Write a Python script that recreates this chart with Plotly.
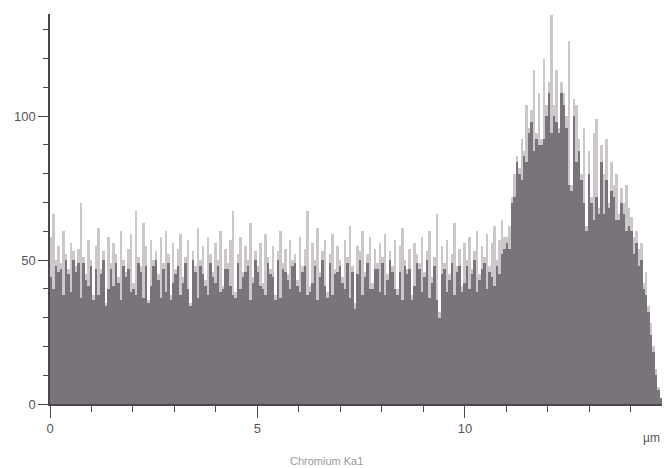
import plotly.graph_objects as go

# Line-scan bins (µm), bin width 0.06
bin_width = 0.06
n_bins = 246
positions = [round(0.03 + bin_width * i, 3) for i in range(n_bins)]

# Raw counts per bin (upper, light gray envelope)
counts_raw = [
    58, 66, 50, 55, 49, 60, 52, 47, 56, 53, 48, 54, 70, 51, 45, 57, 50,
    38, 55, 61, 47, 53, 35, 58, 49, 56, 52, 44, 60, 50, 46, 54, 59, 42,
    67, 51, 48, 63, 55, 36, 57, 50, 53, 45, 58, 49, 60, 52, 38, 56,
    47, 54, 59, 44, 51, 57, 35, 53, 48, 61, 50, 55, 43, 58, 52, 46, 56,
    50, 60, 41, 54, 49, 57, 67, 39, 52, 58, 46, 55, 50, 63, 44, 53, 48,
    56, 42, 59, 51, 47, 55, 38, 53, 60, 49, 54, 45, 57, 50, 52, 43,
    58, 48, 54, 67, 41, 56, 50, 61, 46, 53, 57, 39, 52, 59, 47, 55, 50,
    44, 57, 51, 62, 48, 35, 55, 53, 60, 46, 52, 58, 42, 54, 49, 56, 51,
    59, 45, 53, 48, 57, 40, 55, 61, 50, 47, 54, 38, 56, 52, 49, 58,
    46, 53, 60, 44, 51, 66, 32, 55, 49, 57, 45, 52, 63, 48, 54, 41, 56,
    50, 58, 47, 53, 60, 45, 55, 51, 59, 48, 56, 62, 50, 57, 64, 58,
    58, 62, 72, 80, 86, 82, 92, 88, 104, 96, 102, 116, 94, 108, 92, 120, 104,
    112, 135, 104, 116, 96, 112, 108, 100, 126, 76, 106, 104, 92, 80, 96, 62,
    88, 72, 94, 99, 68, 90, 80, 92, 70, 84, 76, 80, 66, 75, 70, 76, 68, 65,
    58, 60, 54, 56, 42, 46, 34, 28, 20, 12, 6, 2,
]

# Lower (dark gray) profile per bin
counts_base = [
    44, 40, 48, 46, 47, 38, 50, 45, 39, 50, 46, 49, 37, 49, 43, 41, 48,
    36, 47, 38, 45, 50, 34, 40, 47, 41, 49, 42, 36, 48, 44, 47, 39, 40,
    38, 49, 46, 37, 48, 35, 41, 48, 50, 43, 37, 47, 39, 49, 36, 42,
    45, 48, 38, 42, 49, 40, 34, 50, 46, 37, 48, 45, 41, 38, 49, 44, 42,
    48, 39, 40, 47, 47, 41, 38, 37, 49, 40, 44, 46, 48, 36, 42, 50, 46,
    41, 40, 38, 49, 45, 44, 36, 50, 37, 47, 46, 43, 40, 48, 49, 41,
    39, 46, 48, 38, 39, 42, 48, 36, 44, 50, 41, 37, 49, 38, 45, 46, 48,
    42, 40, 49, 37, 46, 33, 45, 50, 38, 44, 49, 40, 40, 47, 47, 39, 49,
    38, 43, 50, 46, 40, 38, 46, 36, 48, 45, 47, 36, 41, 49, 47, 39,
    44, 50, 37, 42, 48, 36, 30, 45, 47, 39, 43, 49, 38, 46, 48, 39, 42,
    48, 40, 45, 50, 39, 43, 47, 49, 40, 46, 44, 41, 48, 45, 52, 54,
    56, 54, 70, 72, 84, 80, 78, 86, 84, 94, 98, 88, 92, 90, 90, 92, 100,
    108, 94, 100, 98, 94, 108, 104, 96, 76, 74, 100, 84, 88, 78, 70, 60,
    80, 70, 64, 72, 66, 84, 66, 78, 68, 74, 72, 64, 64, 70, 66, 60, 62, 60,
    52, 56, 48, 50, 40, 38, 32, 24, 18, 10, 5, 2,
]

x_ticks = [0, 5, 10]
x_tick_labels = ["0", "5", "10"]
y_ticks = [0, 50, 100]
y_tick_labels = ["0", "50", "100"]

axis_color = "#4a484a"
font_family = "Liberation Sans, Arial, sans-serif"

fig = go.Figure()
fig.add_trace(go.Bar(
    x=positions, y=counts_raw, width=bin_width,
    marker=dict(color="#cbc7cb", line=dict(width=0)),
    hoverinfo="x+y", cliponaxis=False, name="raw",
))
fig.add_trace(go.Bar(
    x=positions, y=counts_base, width=bin_width,
    marker=dict(color="#78747a", line=dict(width=0)),
    hoverinfo="x+y", cliponaxis=False, name="base",
))

fig.update_layout(
    width=671, height=468,
    margin=dict(l=50, r=9, t=14, b=64),
    paper_bgcolor="white", plot_bgcolor="white",
    barmode="overlay", bargap=0,
    showlegend=False,
    font=dict(family=font_family, size=13, color="#555555"),
    xaxis=dict(
        range=[0, 14.75], showgrid=False, zeroline=False,
        showline=True, linecolor=axis_color, linewidth=1.5,
        ticks="outside", ticklen=12, tickwidth=1.2, tickcolor=axis_color,
        tickvals=x_ticks, ticktext=x_tick_labels,
        tickfont=dict(size=13, color="#555555"),
        minor=dict(dtick=1, ticks="outside", ticklen=6, tickwidth=1.2,
                   tickcolor=axis_color, showgrid=False),
    ),
    yaxis=dict(
        range=[0, 135.5], showgrid=False, zeroline=False,
        showline=True, linecolor=axis_color, linewidth=1.5,
        ticks="outside", ticklen=10, tickwidth=1.2, tickcolor=axis_color,
        tickvals=y_ticks, ticktext=y_tick_labels,
        tickfont=dict(size=13, color="#555555"),
        minor=dict(dtick=10, ticks="outside", ticklen=5, tickwidth=1.2,
                   tickcolor=axis_color, showgrid=False),
    ),
    annotations=[
        dict(text="µm", xref="paper", yref="paper", x=0.983, y=-0.087,
             showarrow=False, font=dict(size=12, color="#555555"),
             xanchor="center", yanchor="middle"),
        dict(text="Chromium Ka1", xref="paper", yref="paper", x=0.451,
             y=-0.147, showarrow=False,
             font=dict(size=11, color="#9a9a9a"),
             xanchor="center", yanchor="middle"),
    ],
)

fig.write_html("out.html")
